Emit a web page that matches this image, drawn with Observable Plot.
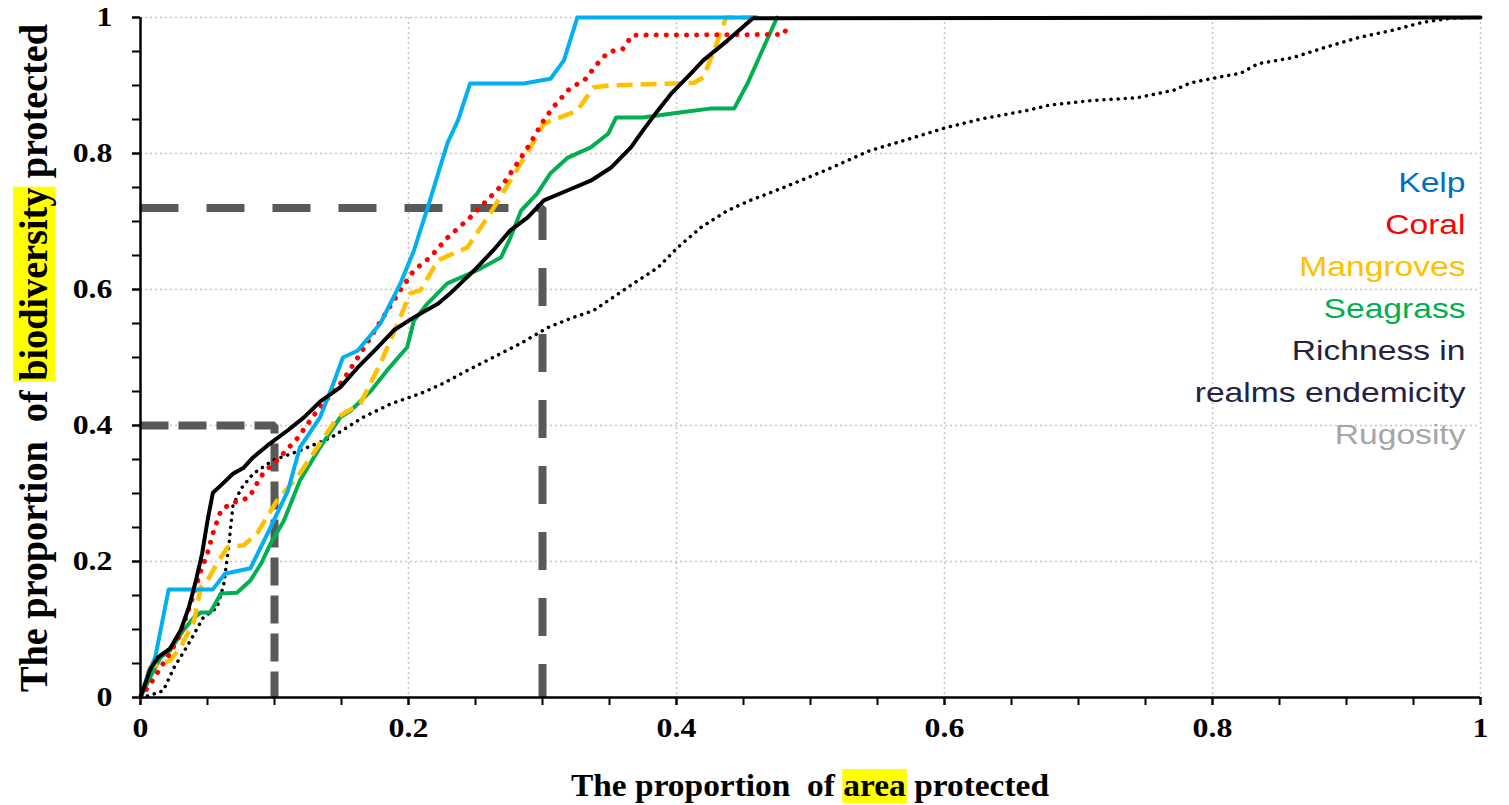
<!DOCTYPE html>
<html>
<head>
<meta charset="utf-8">
<script src="https://cdn.jsdelivr.net/npm/d3@7"></script>
<script src="https://cdn.jsdelivr.net/npm/@observablehq/plot@0.6"></script>
<style>
  html, body { margin: 0; padding: 0; background: #fff; }
</style>
</head>
<body>
<div id="chart"></div>
<script>
// ---------- data ----------
const majorTicks = [0, 0.2, 0.4, 0.6, 0.8, 1];
const tickLabels = ["0", "0.2", "0.4", "0.6", "0.8", "1"];
const minorTicks = [0, 0.05, 0.1, 0.15, 0.2, 0.25, 0.3, 0.35, 0.4, 0.45, 0.5, 0.55, 0.6, 0.65, 0.7, 0.75, 0.8, 0.85, 0.9, 0.95, 1];

const kelp = [[0,0],[0.006,0.037],[0.011,0.059],[0.021,0.159],[0.054,0.159],[0.063,0.182],[0.082,0.19],[0.097,0.25],[0.11,0.304],[0.119,0.368],[0.134,0.412],[0.144,0.462],[0.151,0.5],[0.162,0.51],[0.179,0.55],[0.194,0.609],[0.204,0.657],[0.216,0.731],[0.229,0.815],[0.237,0.849],[0.246,0.903],[0.286,0.903],[0.306,0.91],[0.316,0.937],[0.326,1],[0.46,1]];

const coral = [[0,0],[0.009,0.025],[0.015,0.044],[0.022,0.065],[0.03,0.094],[0.035,0.124],[0.04,0.153],[0.045,0.187],[0.05,0.212],[0.054,0.241],[0.06,0.275],[0.067,0.285],[0.081,0.294],[0.087,0.315],[0.092,0.331],[0.102,0.349],[0.117,0.381],[0.132,0.422],[0.151,0.466],[0.169,0.521],[0.181,0.559],[0.194,0.599],[0.204,0.628],[0.216,0.647],[0.229,0.676],[0.246,0.706],[0.259,0.732],[0.271,0.756],[0.281,0.785],[0.289,0.809],[0.301,0.849],[0.308,0.868],[0.321,0.897],[0.331,0.907],[0.341,0.932],[0.349,0.949],[0.36,0.954],[0.367,0.974],[0.48,0.975],[0.483,0.988]];

const mangroves = [[0,0],[0.007,0.044],[0.015,0.05],[0.022,0.054],[0.03,0.074],[0.04,0.113],[0.045,0.162],[0.05,0.172],[0.057,0.197],[0.065,0.221],[0.077,0.224],[0.087,0.241],[0.102,0.29],[0.117,0.324],[0.132,0.368],[0.147,0.412],[0.164,0.432],[0.179,0.491],[0.192,0.55],[0.201,0.594],[0.209,0.599],[0.222,0.643],[0.244,0.662],[0.261,0.712],[0.276,0.76],[0.291,0.809],[0.301,0.844],[0.313,0.853],[0.326,0.863],[0.338,0.897],[0.349,0.9],[0.413,0.904],[0.42,0.912],[0.428,0.951],[0.437,1],[0.46,1]];

const seagrass = [[0,0],[0.007,0.029],[0.015,0.059],[0.022,0.069],[0.032,0.099],[0.04,0.118],[0.045,0.125],[0.052,0.125],[0.06,0.153],[0.072,0.154],[0.082,0.172],[0.09,0.197],[0.097,0.226],[0.107,0.26],[0.119,0.319],[0.134,0.368],[0.149,0.412],[0.157,0.422],[0.172,0.451],[0.184,0.481],[0.199,0.515],[0.204,0.554],[0.214,0.579],[0.229,0.609],[0.251,0.628],[0.269,0.647],[0.276,0.676],[0.284,0.716],[0.296,0.741],[0.306,0.771],[0.319,0.794],[0.336,0.809],[0.349,0.829],[0.355,0.853],[0.375,0.853],[0.401,0.86],[0.425,0.866],[0.443,0.866],[0.453,0.903],[0.463,0.947],[0.475,1]];

const richness = [[0,0],[0.007,0.04],[0.013,0.059],[0.022,0.072],[0.03,0.099],[0.036,0.132],[0.041,0.169],[0.046,0.212],[0.05,0.26],[0.054,0.301],[0.06,0.312],[0.069,0.329],[0.077,0.338],[0.084,0.353],[0.095,0.371],[0.11,0.393],[0.122,0.412],[0.134,0.435],[0.149,0.456],[0.162,0.485],[0.177,0.515],[0.189,0.54],[0.204,0.559],[0.222,0.579],[0.231,0.594],[0.241,0.613],[0.251,0.632],[0.263,0.657],[0.276,0.687],[0.289,0.706],[0.301,0.731],[0.319,0.746],[0.336,0.76],[0.351,0.779],[0.366,0.809],[0.375,0.834],[0.386,0.863],[0.396,0.888],[0.408,0.912],[0.42,0.937],[0.438,0.966],[0.457,0.999],[1,1]];

const rugosity = [[0,0],[0.007,0.003],[0.017,0.01],[0.025,0.044],[0.035,0.076],[0.047,0.118],[0.057,0.132],[0.062,0.165],[0.066,0.224],[0.067,0.246],[0.069,0.282],[0.075,0.307],[0.084,0.329],[0.099,0.349],[0.119,0.363],[0.142,0.382],[0.166,0.412],[0.187,0.432],[0.209,0.447],[0.226,0.462],[0.244,0.481],[0.263,0.5],[0.284,0.521],[0.304,0.544],[0.323,0.559],[0.338,0.569],[0.368,0.609],[0.386,0.632],[0.401,0.662],[0.418,0.691],[0.438,0.716],[0.455,0.731],[0.48,0.75],[0.511,0.775],[0.544,0.804],[0.578,0.824],[0.601,0.838],[0.628,0.851],[0.661,0.863],[0.678,0.871],[0.71,0.878],[0.744,0.882],[0.771,0.893],[0.784,0.904],[0.804,0.912],[0.821,0.918],[0.834,0.932],[0.86,0.941],[0.884,0.956],[0.91,0.971],[0.934,0.981],[0.957,0.993],[0.978,0.999],[1,1]];

// reference (target) lines
const refHigh = [[0,0.72],[0.3,0.72],[0.3,0]];
const refLow = [[0,0.4],[0.1,0.4],[0.1,0]];

const legendLabels = ["Kelp", "Coral", "Mangroves", "Seagrass", "Richness in", "realms endemicity", "Rugosity"];
const legendColors = ["#0070C0", "#FF0000", "#FFC000", "#00B050", "#23233F", "#23233F", "#A6A6A6"];

const xTitleParts = ["The proportion  of ", "area", " protected"];
const yTitleParts = ["The proportion  of ", "biodiversity", " protected"];

// ---------- chart ----------
const serif = "'Times New Roman','Liberation Serif',serif";
const sans = "Arial,'Liberation Sans',sans-serif";
const X = d => d[0], Y = d => d[1];
const grid = {stroke: "#c4c4c4", strokeOpacity: 1, strokeWidth: 1.5, strokeDasharray: "2,3"};

const plot = Plot.plot({
  width: 1509,
  height: 805,
  marginLeft: 140,
  marginRight: 29,
  marginTop: 17,
  marginBottom: 108,
  x: {domain: [0, 1]},
  y: {domain: [0, 1]},
  style: {fontFamily: serif, background: "#fff", overflow: "visible"},
  marks: [
    Plot.gridX(majorTicks.slice(1), grid),
    Plot.gridY(majorTicks.slice(1), grid),
    Plot.axisX(minorTicks, {tickSize: 8, strokeWidth: 2, tickFormat: () => "", label: null}),
    Plot.axisY(minorTicks, {tickSize: 8, strokeWidth: 2, tickFormat: () => "", label: null}),
    Plot.axisX(majorTicks, {tickSize: 8, strokeWidth: 2, tickPadding: 12, label: null,
      tickFormat: d => tickLabels[majorTicks.indexOf(d)], fontSize: 27, fontWeight: "bold", fill: "#000"}),
    Plot.axisY(majorTicks, {tickSize: 8, strokeWidth: 2, tickPadding: 20, label: null,
      tickFormat: d => tickLabels[majorTicks.indexOf(d)], fontSize: 27, fontWeight: "bold", fill: "#000"}),
    Plot.line(refHigh, {x: X, y: Y, stroke: "#595959", strokeWidth: 8, strokeDasharray: "38,28", strokeLinejoin: "miter", strokeLinecap: "butt"}),
    Plot.line(refLow, {x: X, y: Y, stroke: "#595959", strokeWidth: 8, strokeDasharray: "28,10", strokeLinejoin: "miter", strokeLinecap: "butt"}),
    Plot.line(rugosity, {x: X, y: Y, stroke: "#000", strokeWidth: 3.5, strokeDasharray: "0.1,7", strokeLinecap: "round"}),
    Plot.line(seagrass, {x: X, y: Y, stroke: "#00B050", strokeWidth: 4}),
    Plot.line(mangroves, {x: X, y: Y, stroke: "#FFC000", strokeWidth: 4.5, strokeDasharray: "16,8", strokeLinecap: "butt"}),
    Plot.line(coral, {x: X, y: Y, stroke: "#FF0000", strokeWidth: 5, strokeDasharray: "0.1,10", strokeLinecap: "round"}),
    Plot.line(kelp, {x: X, y: Y, stroke: "#00B0F0", strokeWidth: 4}),
    Plot.line(richness, {x: X, y: Y, stroke: "#000", strokeWidth: 4}),
    Plot.ruleX([0], {stroke: "#000", strokeWidth: 2.5}),
    Plot.ruleY([0], {stroke: "#000", strokeWidth: 2.5}),
    ...legendLabels.map((label, i) => Plot.text([label], {
      text: d => d, frameAnchor: "top-right", textAnchor: "end", lineAnchor: "middle",
      dx: -15, dy: 166 + i * 42, fill: legendColors[i], fontSize: 28, fontFamily: sans
    }))
  ]
});

document.getElementById("chart").appendChild(plot);
const svg = d3.select(plot);

// the reference's lettering is stretched horizontally by about 1.2
function stretch(selection, k) {
  selection.each(function () {
    const L = this.getComputedTextLength();
    this.setAttribute("textLength", L * k);
    this.setAttribute("lengthAdjust", "spacingAndGlyphs");
  });
}
stretch(svg.selectAll('g[aria-label="x-axis tick label"] text'), 1.18);
stretch(svg.selectAll('g[aria-label="y-axis tick label"] text'), 1.18);
stretch(svg.selectAll('g[aria-label="text"] text'), 1.2);

// axis titles with highlighted word
function highlightedTitle(g, parts, hi, fontSize, length) {
  const t = g.append("text")
    .attr("text-anchor", "middle")
    .attr("font-family", serif)
    .attr("font-weight", "bold")
    .attr("font-size", fontSize)
    .attr("fill", "#000")
    .style("white-space", "pre")
    .attr("xml:space", "preserve");
  parts.forEach(p => t.append("tspan").text(p));
  const node = t.node();
  node.setAttribute("textLength", length);
  node.setAttribute("lengthAdjust", "spacingAndGlyphs");
  const start = parts.slice(0, hi).join("").length;
  const end = start + parts[hi].length - 1;
  const a = node.getExtentOfChar(start), b = node.getExtentOfChar(end);
  g.insert("rect", "text")
    .attr("x", a.x - 1).attr("y", a.y + 2)
    .attr("width", b.x + b.width - a.x + 2).attr("height", a.height - 2)
    .attr("fill", "#FFFF00");
}
highlightedTitle(svg.append("g").attr("transform", "translate(810,796)"), xTitleParts, 1, 32, 478);
highlightedTitle(svg.append("g").attr("transform", "translate(47,358) scale(1.15,1) rotate(-90)"), yTitleParts, 1, 35, 668);
</script>
</body>
</html>
